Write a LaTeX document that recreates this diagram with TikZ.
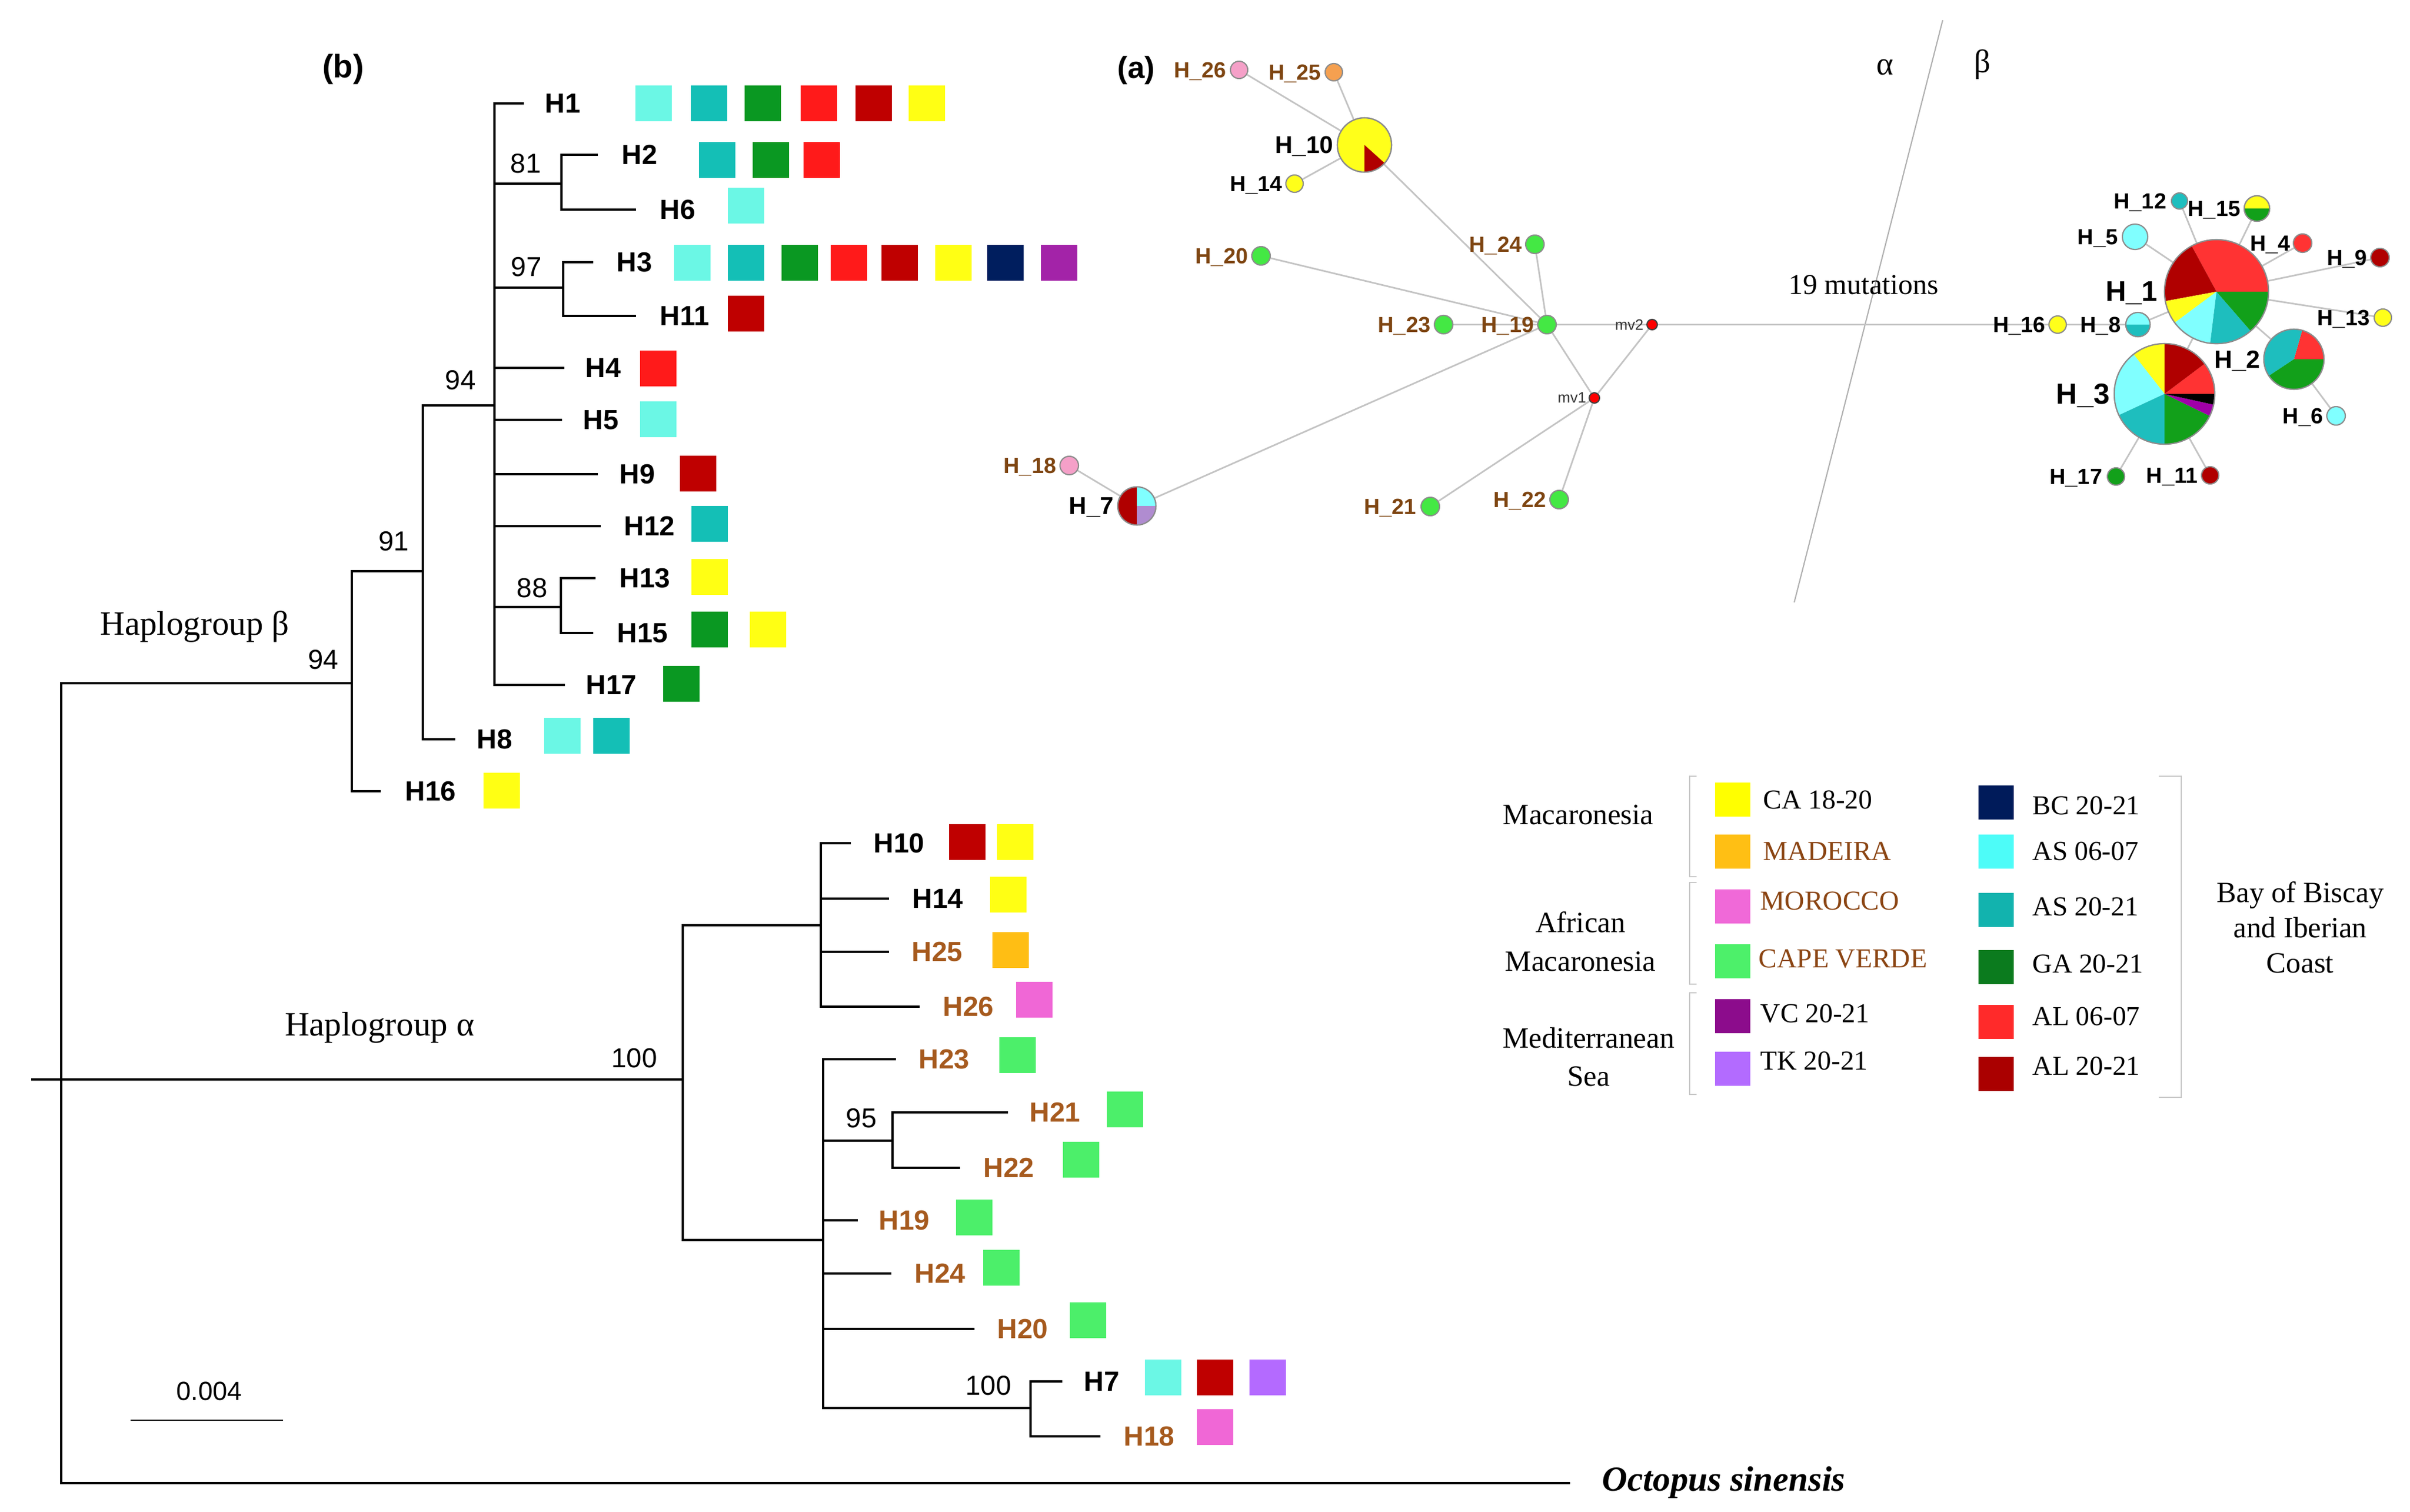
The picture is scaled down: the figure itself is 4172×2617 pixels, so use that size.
\documentclass[tikz,border=0pt]{standalone}
\usepackage{fontspec}
\setmainfont{Liberation Serif}
\setsansfont{Liberation Sans}
\usetikzlibrary{backgrounds}
% tree colours
\definecolor{tlc}{HTML}{6BF7E5}
\definecolor{tteal}{HTML}{14BFB6}
\definecolor{tgreen}{HTML}{0A9822}
\definecolor{tred}{HTML}{FF1A1A}
\definecolor{tdred}{HTML}{BF0000}
\definecolor{tyellow}{HTML}{FFFF14}
\definecolor{tnavy}{HTML}{001E5E}
\definecolor{tpurple}{HTML}{A323A8}
\definecolor{torange}{HTML}{FFBE14}
\definecolor{tpink}{HTML}{F067D6}
\definecolor{tlgreen}{HTML}{4CEF6A}
\definecolor{tlav}{HTML}{B46AFF}
\definecolor{tbrown}{HTML}{A65A1E}
% network colours
\definecolor{nred}{HTML}{FF3333}
\definecolor{ndred}{HTML}{B00000}
\definecolor{nyellow}{HTML}{FFFF1A}
\definecolor{nlc}{HTML}{80FFFF}
\definecolor{nteal}{HTML}{1EBEBE}
\definecolor{ngreen}{HTML}{12A01A}
\definecolor{npurple}{HTML}{A000A8}
\definecolor{nlav}{HTML}{B08CD0}
\definecolor{npink}{HTML}{F5A0C8}
\definecolor{norange}{HTML}{F5A050}
\definecolor{nlgreen}{HTML}{44E844}
\definecolor{nbrown}{HTML}{7E4511}
\definecolor{nedgec}{HTML}{C4C4C4}
\definecolor{nborder}{HTML}{8C8C8C}
% legend colours
\definecolor{lyellow}{HTML}{FFFF00}
\definecolor{lorange}{HTML}{FFBF14}
\definecolor{lpink}{HTML}{F069D8}
\definecolor{llgreen}{HTML}{4DF06A}
\definecolor{lpurple}{HTML}{8C0C8C}
\definecolor{llav}{HTML}{B36BFF}
\definecolor{lnavy}{HTML}{001B5A}
\definecolor{lcyan}{HTML}{4DFCF8}
\definecolor{lteal}{HTML}{12B3AE}
\definecolor{lgreenc}{HTML}{0B7B1E}
\definecolor{lred}{HTML}{FF2A2A}
\definecolor{ldred}{HTML}{AA0000}
\definecolor{lbrown}{HTML}{8B4513}
\definecolor{brk}{HTML}{C8C8C8}

\newcommand{\sqrow}[3]{\foreach \xx/\cc [count=\ii] in {#3}{\node[sq, fill=\cc] (#1-\ii) at ({\xx+31.5},#2) {};}}
\newcommand{\leaf}[6]{\coordinate (#1) at (#2,#3); \node[#6] (#1-lab) at (#4,#3) {#5};}
\newcommand{\hap}[5]{\node[hap, minimum size={#4*0.02cm}, fill=#5] (#1) at (#2,#3) {};}
\newcommand{\slice}[5]{\fill[#5] (#1.center) -- ++(#3:{#2*0.01cm}) arc[start angle=#3, end angle=#4, radius={#2*0.01cm}] -- cycle;}
\newcommand{\rim}[2]{\draw[nborder, line width=0.6pt] (#1.center) circle[radius={#2*0.01cm}];}
\newcommand{\hlab}[4]{\node[#4] (#1-lab) at ([xshift=-#3]#1.west) {#2};}

\begin{document}
\begin{tikzpicture}[x=0.01cm, y=-0.01cm,
  br/.style={line width=1.3pt, line join=miter},
  tlab/.style={font=\sffamily\bfseries\fontsize{13.6}{16}\selectfont, anchor=west, inner sep=0pt, text depth=0pt},
  tlabb/.style={tlab, text=tbrown},
  bs/.style={font=\sffamily\fontsize{13.5}{16}\selectfont, inner sep=0pt},
  sq/.style={minimum width=0.63cm, minimum height=0.62cm, inner sep=0pt, draw=none},
  hap/.style={circle, inner sep=0pt, draw=nborder, line width=0.6pt},
  nlab/.style={font=\sffamily\bfseries\fontsize{10.8}{12}\selectfont, anchor=east, inner sep=0pt, text depth=0pt},
  nlabb/.style={nlab, text=nbrown},
  netedge/.style={nedgec, line width=0.8pt},
  legsq/.style={minimum width=0.61cm, minimum height=0.59cm, inner sep=0pt},
  legt/.style={font=\fontsize{13.5}{16}\selectfont, anchor=west, inner sep=0pt, text depth=0pt},
  legtb/.style={legt, text=lbrown},
  grp/.style={font=\fontsize{14.5}{19}\selectfont, align=center, inner sep=0pt},
  brack/.style={brk, line width=0.6pt}
]
\useasboundingbox (0,0) rectangle (4172,2617);

% ================= TREE (b) =================
\node[font=\sffamily\bfseries\fontsize{16}{18}\selectfont, inner sep=0pt] (labb) at (594,120) {(b)};

\coordinate (stub) at (54,1869);
\coordinate (root) at (106,1869);
\coordinate (n94b) at (609,1183);
\coordinate (n91) at (732,989);
\coordinate (nTop) at (856,702);
\coordinate (n81) at (972,318);
\coordinate (n97) at (975,498);
\coordinate (n88) at (971,1051);
\coordinate (n100a) at (1182,1869);
\coordinate (nA1) at (1421,1602);
\coordinate (nA2) at (1425,2147);
\coordinate (n95) at (1545,1975);
\coordinate (n100b) at (1784,2438);
\coordinate (octo) at (2718,2568);

% beta leaves
\leaf{H1}{907}{179}{943}{H1}{tlab}
\leaf{H2}{1035}{268}{1076}{H2}{tlab}
\leaf{H6}{1101}{363}{1142}{H6}{tlab}
\leaf{H3}{1027}{454}{1067}{H3}{tlab}
\leaf{H11}{1101}{547}{1142}{H11}{tlab}
\leaf{H4}{977}{637}{1013}{H4}{tlab}
\leaf{H5}{973}{727}{1009}{H5}{tlab}
\leaf{H9}{1035}{821}{1072}{H9}{tlab}
\leaf{H12}{1040}{911}{1080}{H12}{tlab}
\leaf{H13}{1031}{1001}{1072}{H13}{tlab}
\leaf{H15}{1027}{1096}{1068}{H15}{tlab}
\leaf{H17}{978}{1186}{1014}{H17}{tlab}
\leaf{H8}{788}{1280}{825}{H8}{tlab}
\leaf{H16}{659}{1370}{701}{H16}{tlab}
% alpha leaves
\leaf{H10}{1473}{1460}{1512}{H10}{tlab}
\leaf{H14}{1539}{1556}{1579}{H14}{tlab}
\leaf{H25}{1539}{1648}{1578}{H25}{tlabb}
\leaf{H26}{1592}{1743}{1632}{H26}{tlabb}
\leaf{H23}{1551}{1834}{1590}{H23}{tlabb}
\leaf{H21}{1745}{1926}{1782}{H21}{tlabb}
\leaf{H22}{1662}{2022}{1702}{H22}{tlabb}
\leaf{H19}{1485}{2113}{1521}{H19}{tlabb}
\leaf{H24}{1543}{2205}{1583}{H24}{tlabb}
\leaf{H20}{1687}{2301}{1726}{H20}{tlabb}
\leaf{H7}{1839}{2392}{1876}{H7}{tlab}
\leaf{H18}{1905}{2487}{1945}{H18}{tlabb}

\draw[br] (stub) -- (root);
\draw[br] (root) |- (n94b) (root) |- (n100a) (root) |- (octo);
\draw[br] (n94b) |- (n91) (n94b) |- (H16);
\draw[br] (n91) |- (nTop) (n91) |- (H8);
\draw[br] (nTop) |- (H1) (nTop) |- (n81) (nTop) |- (n97) (nTop) |- (H4) (nTop) |- (H5)
          (nTop) |- (H9) (nTop) |- (H12) (nTop) |- (n88) (nTop) |- (H17);
\draw[br] (n81) |- (H2) (n81) |- (H6);
\draw[br] (n97) |- (H3) (n97) |- (H11);
\draw[br] (n88) |- (H13) (n88) |- (H15);
\draw[br] (n100a) |- (nA1) (n100a) |- (nA2);
\draw[br] (nA1) |- (H10) (nA1) |- (H14) (nA1) |- (H25) (nA1) |- (H26);
\draw[br] (nA2) |- (H23) (nA2) |- (n95) (nA2) |- (H19) (nA2) |- (H24) (nA2) |- (H20) (nA2) |- (n100b);
\draw[br] (n95) |- (H21) (n95) |- (H22);
\draw[br] (n100b) |- (H7) (n100b) |- (H18);

% bootstrap values
\node[bs] (bs81) at (910,283) {81};
\node[bs] (bs97) at (911,462) {97};
\node[bs] (bs94a) at (797,658) {94};
\node[bs] (bs91) at (682,937) {91};
\node[bs] (bs88) at (921,1018) {88};
\node[bs] (bs94b) at (560,1142) {94};
\node[bs] (bs100a) at (1098,1832) {100};
\node[bs] (bs95) at (1491,1936) {95};
\node[bs] (bs100b) at (1711,2399) {100};

\node[font=\fontsize{16.8}{20}\selectfont, inner sep=0pt, text depth=0pt] (hgb) at (337,1079) {Haplogroup β};
\node[font=\fontsize{16.8}{20}\selectfont, inner sep=0pt, text depth=0pt] (hga) at (657,1773) {Haplogroup α};
\node[font=\bfseries\itshape\fontsize{17.3}{20}\selectfont, anchor=west, inner sep=0pt, text depth=0pt] (octolab) at (2773,2560) {Octopus sinensis};

% scale bar
\coordinate (sbL) at (226,2459);
\coordinate (sbR) at (490,2459);
\draw[line width=0.8pt] (sbL) -- (sbR);
\node[font=\sffamily\fontsize{12.9}{15}\selectfont, inner sep=0pt] (sblab) at (362,2409) {0.004};

% coloured squares
\sqrow{sH1}{179}{1100/tlc,1196/tteal,1289/tgreen,1386/tred,1481/tdred,1573/tyellow}
\sqrow{sH2}{277}{1210/tteal,1303/tgreen,1391/tred}
\sqrow{sH6}{356}{1260/tlc}
\sqrow{sH3}{455}{1167/tlc,1260/tteal,1353/tgreen,1438/tred,1526/tdred,1619/tyellow,1709/tnavy,1802/tpurple}
\sqrow{sH11}{543}{1260/tdred}
\sqrow{sH4}{638}{1108/tred}
\sqrow{sH5}{726}{1108/tlc}
\sqrow{sH9}{820}{1177/tdred}
\sqrow{sH12}{907}{1197/tteal}
\sqrow{sH13}{999}{1197/tyellow}
\sqrow{sH15}{1090}{1197/tgreen,1298/tyellow}
\sqrow{sH17}{1184}{1148/tgreen}
\sqrow{sH8}{1274}{942/tlc,1027/tteal}
\sqrow{sH16}{1369}{837/tyellow}
\sqrow{sH10}{1458}{1643/tdred,1726/tyellow}
\sqrow{sH14}{1549}{1714/tyellow}
\sqrow{sH25}{1645}{1718/torange}
\sqrow{sH26}{1731}{1759/tpink}
\sqrow{sH23}{1827}{1730/tlgreen}
\sqrow{sH21}{1921}{1916/tlgreen}
\sqrow{sH22}{2008}{1840/tlgreen}
\sqrow{sH19}{2108}{1655/tlgreen}
\sqrow{sH24}{2195}{1702/tlgreen}
\sqrow{sH20}{2286}{1852/tlgreen}
\sqrow{sH7}{2385}{1982/tlc,2072/tdred,2163/tlav}
\sqrow{sH18}{2471}{2072/tpink}

% ================= NETWORK (a) =================
\node[font=\sffamily\bfseries\fontsize{15}{18}\selectfont, inner sep=0pt] (laba) at (1967,122) {(a)};
\node[font=\fontsize{16}{18}\selectfont, inner sep=0pt] (alab) at (3263,116) {α};
\node[font=\fontsize{16}{18}\selectfont, inner sep=0pt] (blab) at (3432,112) {β};
\node[font=\fontsize{14.2}{17}\selectfont, inner sep=0pt] (mutlab) at (3226,493) {19 mutations};
\coordinate (divtop) at (3363,35);
\coordinate (divbot) at (3106,1043);

\hap{h26}{2145}{121}{15}{npink}
\hap{h25}{2309}{125}{15}{norange}
\hap{h10}{2362}{251}{47}{nyellow}
\hap{h14}{2241}{318}{15}{nyellow}
\hap{h24}{2657}{423}{16}{nlgreen}
\hap{h20}{2183}{443}{16}{nlgreen}
\hap{h23}{2499}{562}{16}{nlgreen}
\hap{h19}{2678}{562}{16}{nlgreen}
\node[circle, inner sep=0pt, minimum size=0.18cm, fill=red, draw=black!75, line width=0.6pt] (mv2) at (2860,562) {};
\node[circle, inner sep=0pt, minimum size=0.18cm, fill=red, draw=black!75, line width=0.6pt] (mv1) at (2760,689) {};
\hap{h21}{2476}{877}{16}{nlgreen}
\hap{h22}{2699}{865}{16}{nlgreen}
\hap{h7}{1968}{876}{33}{white}
\hap{h18}{1851}{806}{16}{npink}
\hap{h16}{3562}{562}{15}{nyellow}
\hap{h8}{3701}{562}{21}{white}
\hap{h1}{3837}{505}{90}{white}
\hap{h12}{3773}{348}{14}{nteal}
\hap{h15}{3907}{361}{22}{white}
\hap{h5}{3696}{410}{22}{nlc}
\hap{h4}{3986}{421}{16}{nred}
\hap{h9}{4120}{446}{16}{ndred}
\hap{h13}{4125}{550}{15}{nyellow}
\hap{h2}{3971}{622}{52}{white}
\hap{h6}{4044}{720}{16}{nlc}
\hap{h3}{3747}{682}{87}{white}
\hap{h17}{3663}{825}{15}{ngreen}
\hap{h11}{3826}{823}{15}{ndred}

% pies
\slice{h10}{47}{270}{318}{ndred}\rim{h10}{47}
\slice{h7}{33}{90}{270}{ndred}\slice{h7}{33}{0}{90}{nlc}\slice{h7}{33}{270}{360}{nlav}\rim{h7}{33}
\slice{h8}{21}{0}{180}{nlc}\slice{h8}{21}{180}{360}{nteal}\rim{h8}{21}
\slice{h15}{22}{0}{180}{nyellow}\slice{h15}{22}{180}{360}{ngreen}\rim{h15}{22}
\slice{h1}{90}{0}{118.5}{nred}\slice{h1}{90}{118.5}{190.5}{ndred}\slice{h1}{90}{190.5}{216.6}{nyellow}
\slice{h1}{90}{216.6}{263}{nlc}\slice{h1}{90}{263}{311}{nteal}\slice{h1}{90}{311}{360}{ngreen}\rim{h1}{90}
\slice{h2}{52}{0}{74}{nred}\slice{h2}{52}{74}{213.6}{nteal}\slice{h2}{52}{213.6}{360}{ngreen}\rim{h2}{52}
\slice{h3}{87}{0}{37}{nred}\slice{h3}{87}{37}{90}{ndred}\slice{h3}{87}{90}{128}{nyellow}
\slice{h3}{87}{128}{205}{nlc}\slice{h3}{87}{205}{270}{nteal}\slice{h3}{87}{270}{334}{ngreen}
\slice{h3}{87}{334}{347.6}{npurple}\slice{h3}{87}{347.6}{360}{black}\rim{h3}{87}

% network labels
\hlab{h26}{H\_26}{1.5pt}{nlabb}
\hlab{h25}{H\_25}{1.5pt}{nlabb}
\hlab{h10}{H\_10}{1.5pt}{nlab, font=\sffamily\bfseries\fontsize{12}{14}\selectfont}
\hlab{h14}{H\_14}{1.2pt}{nlab}
\hlab{h24}{H\_24}{1.4pt}{nlabb}
\hlab{h20}{H\_20}{1.4pt}{nlabb}
\hlab{h23}{H\_23}{1.4pt}{nlabb}
\hlab{h19}{H\_19}{1.4pt}{nlabb}
\hlab{h21}{H\_21}{1.8pt}{nlabb}
\hlab{h22}{H\_22}{1.4pt}{nlabb}
\hlab{h18}{H\_18}{1.4pt}{nlabb}
\hlab{h7}{H\_7}{1.4pt}{nlab, font=\sffamily\bfseries\fontsize{12}{14}\selectfont}
\hlab{mv2}{mv2}{1.2pt}{nlab, font=\sffamily\fontsize{7.4}{9}\selectfont, text=black!80}
\hlab{mv1}{mv1}{1.0pt}{nlab, font=\sffamily\fontsize{7.4}{9}\selectfont, text=black!80}
\hlab{h16}{H\_16}{1.2pt}{nlab}
\hlab{h8}{H\_8}{2pt}{nlab}
\hlab{h1}{H\_1}{2.8pt}{nlab, font=\sffamily\bfseries\fontsize{14}{16}\selectfont}
\hlab{h12}{H\_12}{2pt}{nlab}
\hlab{h15}{H\_15}{1.4pt}{nlab}
\hlab{h5}{H\_5}{1.7pt}{nlab}
\hlab{h4}{H\_4}{1pt}{nlab}
\hlab{h9}{H\_9}{1.3pt}{nlab}
\hlab{h13}{H\_13}{1.7pt}{nlab}
\hlab{h2}{H\_2}{1.2pt}{nlab, font=\sffamily\bfseries\fontsize{12.3}{14}\selectfont}
\hlab{h6}{H\_6}{1.4pt}{nlab}
\hlab{h3}{H\_3}{1.7pt}{nlab, font=\sffamily\bfseries\fontsize{14.3}{16}\selectfont}
\hlab{h17}{H\_17}{2pt}{nlab}
\hlab{h11}{H\_11}{1.4pt}{nlab}

% ================= LEGEND =================
\node[legsq, fill=lyellow] (lg1) at (2999.5,1384.5) {};
\node[legt] (lg1t) at (3052,1385) {CA 18-20};
\node[legsq, fill=lorange] (lg2) at (2999.5,1474.5) {};
\node[legtb] (lg2t) at (3052,1474) {MADEIRA};
\node[legsq, fill=lpink] (lg3) at (2999.5,1569.5) {};
\node[legtb] (lg3t) at (3047,1560) {MOROCCO};
\node[legsq, fill=llgreen] (lg4) at (2999.5,1664.5) {};
\node[legtb] (lg4t) at (3044,1660) {CAPE VERDE};
\node[legsq, fill=lpurple] (lg5) at (2999.5,1759.5) {};
\node[legt] (lg5t) at (3047,1755) {VC 20-21};
\node[legsq, fill=llav] (lg6) at (2999.5,1850) {};
\node[legt] (lg6t) at (3047,1837) {TK 20-21};
\node[legsq, fill=lnavy] (lg7) at (3455,1389.5) {};
\node[legt] (lg7t) at (3518,1395) {BC 20-21};
\node[legsq, fill=lcyan] (lg8) at (3455,1474.5) {};
\node[legt] (lg8t) at (3518,1474) {AS 06-07};
\node[legsq, fill=lteal] (lg9) at (3455,1575) {};
\node[legt] (lg9t) at (3518,1570) {AS 20-21};
\node[legsq, fill=lgreenc] (lg10) at (3455,1674.5) {};
\node[legt] (lg10t) at (3518,1669) {GA 20-21};
\node[legsq, fill=lred] (lg11) at (3455,1769) {};
\node[legt] (lg11t) at (3518,1760) {AL 06-07};
\node[legsq, fill=ldred] (lg12) at (3455,1859) {};
\node[legt] (lg12t) at (3518,1846) {AL 20-21};

\node[grp] (gmac) at (2732,1411) {Macaronesia};
\node[grp] (gafr) at (2736,1630) {African\\Macaronesia};
\node[grp] (gmed) at (2750,1830) {Mediterranean\\Sea};
\node[grp, font=\fontsize{14.5}{17.4}\selectfont] (gbay) at (3982,1606) {Bay of Biscay\\and Iberian\\Coast};

\draw[brack] (2937,1344) -- (2925,1344) -- (2925,1518) -- (2937,1518);
\draw[brack] (2937,1528) -- (2925,1528) -- (2925,1704) -- (2937,1704);
\draw[brack] (2937,1719) -- (2925,1719) -- (2925,1895) -- (2937,1895);
\draw[brack] (3737,1344) -- (3776,1344) -- (3776,1900) -- (3737,1900);

% ================= BACKGROUND: white + network edges =================
\begin{scope}[on background layer]
\fill[white] (0,0) rectangle (4172,2617);
\draw[nedgec!90!black, line width=0.6pt] (divtop) -- (divbot);
\draw[netedge] (h26) -- (h10) (h25) -- (h10) (h14) -- (h10) (h10) -- (h19)
  (h24) -- (h19) (h20) -- (h19) (h23) -- (h19) (h7) -- (h19) (h18) -- (h7)
  (h19) -- (mv2) (h19) -- (mv1) (mv1) -- (mv2) (mv1) -- (h21) (mv1) -- (h22)
  (mv2) -- (h16) (h16) -- (h8) (h8) -- (h1) (h5) -- (h1) (h12) -- (h1) (h15) -- (h1)
  (h4) -- (h1) (h9) -- (h1) (h13) -- (h1) (h1) -- (h2) (h1) -- (h3) (h2) -- (h6)
  (h3) -- (h17) (h3) -- (h11);
\end{scope}
\end{tikzpicture}
\end{document}
